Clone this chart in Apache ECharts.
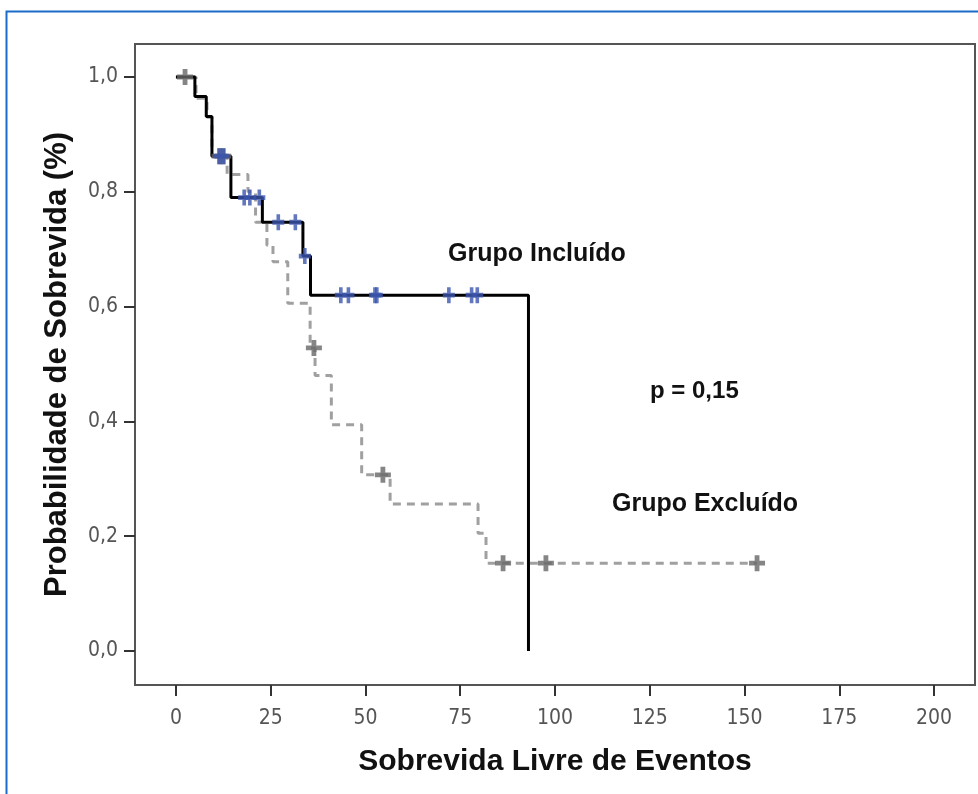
<!DOCTYPE html>
<html>
<head>
<meta charset="utf-8">
<script src="https://cdn.jsdelivr.net/npm/echarts@6/dist/echarts.min.js"></script>
<style>
  html, body { margin: 0; padding: 0; background: #fff; }
  #chart { width: 978px; height: 794px; }
</style>
</head>
<body>
<div id="chart"></div>
<script>
// Kaplan-Meier steps [tempo, probabilidade]
const incluidoSteps = [
  [0, 1.0], [5, 0.966], [8, 0.931], [9.5, 0.862], [14.5, 0.79],
  [22.8, 0.747], [33.5, 0.688], [35.5, 0.62], [93, 0.0]
];
const incluidoCensored = [
  [11.5, 0.862], [12.5, 0.862], [18, 0.79], [19.5, 0.79], [22, 0.79],
  [27, 0.747], [31.5, 0.747], [34, 0.688], [43.5, 0.62], [45.5, 0.62],
  [52.5, 0.62], [53, 0.62], [72, 0.62], [78, 0.62], [79.5, 0.62]
];
const excluidoSteps = [
  [0, 1.0], [5.3, 0.963], [8.2, 0.93], [9.5, 0.862], [13.5, 0.83],
  [19, 0.8], [21, 0.747], [24, 0.707], [25.6, 0.678], [29.5, 0.606],
  [35.4, 0.528], [36.7, 0.48], [41, 0.394], [49, 0.307], [56.5, 0.256],
  [79.7, 0.205], [81.8, 0.153], [153.3, 0.153]
];
const excluidoCensored = [
  [2.4, 1.0], [11.5, 0.862], [12.5, 0.862], [36.4, 0.528], [54.6, 0.307],
  [86.3, 0.153], [97.6, 0.153], [153.3, 0.153]
];
const xTicks = [0, 25, 50, 75, 100, 125, 150, 175, 200];
const yTicks = [0, 0.2, 0.4, 0.6, 0.8, 1.0];

const plusPath = 'path://M3.5,0H6.5V3.5H10V6.5H6.5V10H3.5V6.5H0V3.5H3.5Z';
const axisFont = "'DejaVu Sans Condensed', 'Liberation Sans Narrow', 'Liberation Sans', Arial, sans-serif";
const boldFont = "'Liberation Sans', Arial, sans-serif";

const chart = echarts.init(document.getElementById('chart'));

chart.setOption({
  animation: false,
  backgroundColor: '#fff',
  grid: {
    left: 135, top: 44, right: 3, bottom: 109,
    show: true, borderColor: '#555', borderWidth: 2
  },
  xAxis: {
    type: 'value',
    min: -10.8, max: 210.8,
    name: 'Sobrevida Livre de Eventos',
    nameLocation: 'middle',
    nameGap: 62,
    nameTextStyle: { fontFamily: boldFont, fontWeight: 'bold', fontSize: 30, color: '#111' },
    axisLine: { show: true, onZero: false, lineStyle: { color: '#555', width: 2 } },
    axisTick: { show: true, customValues: xTicks, length: 11, lineStyle: { color: '#333', width: 2 } },
    axisLabel: {
      customValues: xTicks, margin: 23,
      fontFamily: axisFont, fontSize: 21, color: '#555'
    },
    splitLine: { show: false }
  },
  yAxis: {
    type: 'value',
    min: -0.0592, max: 1.0575,
    name: 'Probabilidade de Sobrevida (%)',
    nameLocation: 'middle',
    nameGap: 62,
    nameTextStyle: { fontFamily: boldFont, fontWeight: 'bold', fontSize: 31, color: '#111' },
    axisLine: { show: true, onZero: false, lineStyle: { color: '#555', width: 2 } },
    axisTick: { show: true, customValues: yTicks, length: 11, lineStyle: { color: '#333', width: 2 } },
    axisLabel: {
      customValues: yTicks, margin: 17,
      fontFamily: axisFont, fontSize: 21, color: '#555',
      formatter: v => v.toFixed(1).replace('.', ',')
    },
    splitLine: { show: false }
  },
  graphic: [
    {
      type: 'rect', left: 4, top: 9, silent: true,
      shape: { width: 1000, height: 1000 },
      style: { fill: 'none', stroke: '#1a6cc8', lineWidth: 2 }
    },
    {
      type: 'text', left: 448, top: 242,
      style: { text: 'Grupo Incluído', font: "bold 25px 'Liberation Sans', Arial", fill: '#111' }
    },
    {
      type: 'text', left: 650, top: 379,
      style: { text: 'p = 0,15', font: "bold 24px 'Liberation Sans', Arial", fill: '#111' }
    },
    {
      type: 'text', left: 612, top: 492,
      style: { text: 'Grupo Excluído', font: "bold 25px 'Liberation Sans', Arial", fill: '#111' }
    }
  ],
  series: [
    {
      name: 'Grupo Excluído',
      type: 'line', step: 'end', data: excluidoSteps,
      showSymbol: false, symbol: 'none',
      lineStyle: { color: '#a0a0a0', width: 3, type: [8, 6] },
      z: 2
    },
    {
      name: 'Grupo Incluído',
      type: 'line', step: 'end', data: incluidoSteps,
      showSymbol: false, symbol: 'none',
      lineStyle: { color: '#000', width: 3 },
      z: 3
    },
    {
      name: 'Excluído censurado',
      type: 'scatter', data: excluidoCensored,
      symbol: plusPath, symbolSize: [16, 16],
      itemStyle: { color: '#666' },
      z: 4
    },
    {
      name: 'Incluído censurado',
      type: 'scatter', data: incluidoCensored,
      symbol: plusPath, symbolSize: [12, 16],
      itemStyle: { color: '#3b55ad' },
      z: 5
    }
  ]
});
</script>
</body>
</html>
